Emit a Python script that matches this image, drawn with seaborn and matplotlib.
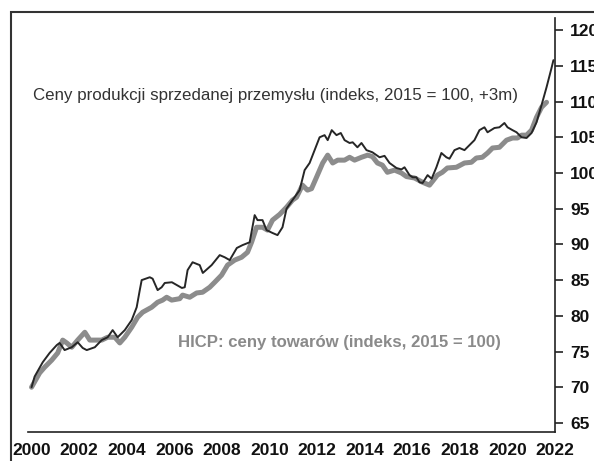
import numpy as np
import pandas as pd
import matplotlib.pyplot as plt
import seaborn as sns
from matplotlib.patches import Rectangle

# ---- dane ----
ppi_lata = [2000.0, 2000.13, 2000.47, 2000.76, 2001.06, 2001.18, 2001.39, 2001.69, 2001.94,
            2002.15, 2002.32, 2002.66, 2002.95, 2003.2, 2003.41, 2003.62, 2003.92, 2004.21,
            2004.42, 2004.55, 2004.63, 2004.97, 2005.09, 2005.3, 2005.47, 2005.6, 2005.9,
            2006.11, 2006.32, 2006.44, 2006.56, 2006.77, 2007.07, 2007.2, 2007.57, 2007.91,
            2008.12, 2008.33, 2008.63, 2008.87, 2009.17, 2009.38, 2009.5, 2009.71, 2009.88,
            2010.13, 2010.34, 2010.55, 2010.72, 2010.97, 2011.27, 2011.48, 2011.69, 2011.9,
            2012.11, 2012.32, 2012.45, 2012.62, 2012.82, 2013.0, 2013.16, 2013.37, 2013.5,
            2013.7, 2013.87, 2014.08, 2014.33, 2014.63, 2014.84, 2015.05, 2015.34, 2015.55,
            2015.68, 2015.89, 2016.02, 2016.18, 2016.31, 2016.44, 2016.65, 2016.82, 2017.02,
            2017.23, 2017.44, 2017.57, 2017.78, 2017.99, 2018.2, 2018.41, 2018.62, 2018.83,
            2019.04, 2019.17, 2019.46, 2019.67, 2019.88, 2020.01, 2020.22, 2020.39, 2020.6,
            2020.81, 2021.02, 2021.23, 2021.44, 2021.65, 2021.86, 2021.94]
ppi_wart = [70.0, 71.5, 73.5, 74.8, 75.9, 76.2, 75.2, 75.6, 76.3,
            75.5, 75.2, 75.6, 76.6, 77.0, 78.0, 77.0, 78.0, 79.4,
            81.2, 83.6, 85.0, 85.4, 85.2, 83.6, 84.0, 84.6, 84.7,
            84.3, 83.9, 84.0, 86.4, 87.5, 87.1, 86.0, 87.1, 88.5,
            88.2, 87.8, 89.5, 89.9, 90.3, 94.1, 93.4, 93.4, 92.0,
            91.6, 91.3, 92.4, 95.0, 96.2, 97.6, 100.4, 101.4, 103.2,
            105.0, 105.3, 104.6, 106.0, 105.3, 105.6, 104.6, 104.2, 104.3,
            103.6, 104.2, 103.2, 102.9, 102.2, 102.4, 101.4, 100.7, 100.5,
            100.8, 99.7, 99.4, 99.4, 98.7, 98.6, 99.7, 99.2, 100.8,
            102.8, 102.2, 102.0, 103.2, 103.5, 103.2, 103.9, 104.6, 106.0,
            106.4, 105.7, 106.3, 106.4, 107.0, 106.4, 106.0, 105.7, 105.0,
            104.9, 105.6, 107.1, 109.5, 112.0, 114.7, 115.8]

hicp_lata = [2000.0, 2000.34, 2000.55, 2000.85, 2001.1, 2001.31, 2001.48, 2001.69, 2001.94,
             2002.24, 2002.45, 2002.66, 2002.95, 2003.2, 2003.5, 2003.71, 2003.92, 2004.21,
             2004.46, 2004.67, 2005.05, 2005.3, 2005.51, 2005.68, 2005.89, 2006.23, 2006.35,
             2006.65, 2006.94, 2007.19, 2007.49, 2007.7, 2007.99, 2008.24, 2008.54, 2008.83,
             2009.08, 2009.25, 2009.46, 2009.71, 2009.92, 2010.13, 2010.43, 2010.72, 2010.97,
             2011.14, 2011.39, 2011.6, 2011.77, 2011.98, 2012.24, 2012.45, 2012.66, 2012.87,
             2013.16, 2013.37, 2013.58, 2013.87, 2014.13, 2014.33, 2014.54, 2014.75, 2014.96,
             2015.26, 2015.55, 2015.76, 2016.1, 2016.44, 2016.73, 2016.85, 2017.06, 2017.27,
             2017.48, 2017.86, 2018.2, 2018.49, 2018.7, 2018.95, 2019.17, 2019.38, 2019.67,
             2019.97, 2020.22, 2020.43, 2020.6, 2020.81, 2021.02, 2021.23, 2021.44, 2021.65]
hicp_wart = [70.0, 72.0, 72.8, 73.8, 74.8, 76.6, 76.2, 75.6, 76.6,
             77.7, 76.6, 76.6, 76.6, 77.0, 77.0, 76.2, 77.0, 78.4,
             79.8, 80.5, 81.2, 81.9, 82.2, 82.6, 82.2, 82.4, 82.9,
             82.6, 83.2, 83.3, 84.0, 84.7, 85.7, 87.1, 87.8, 88.2,
             88.9, 90.3, 92.4, 92.4, 92.0, 93.4, 94.2, 95.2, 96.2,
             96.6, 98.3, 97.6, 97.8, 99.4, 101.4, 102.5, 101.4, 101.8,
             101.8, 102.2, 101.8, 102.2, 102.5, 102.3, 101.4, 101.1, 100.1,
             100.4, 100.0, 99.5, 99.3, 98.7, 98.3, 98.8, 99.7, 100.1,
             100.7, 100.8, 101.4, 101.5, 102.1, 102.2, 102.8, 103.5, 103.6,
             104.6, 104.9, 104.9, 105.3, 105.3, 106.0, 107.8, 109.2, 109.9]

x_ticks = list(range(2000, 2023, 2))
y_ticks = list(range(65, 121, 5))

etykieta_ppi = "Ceny produkcji sprzedanej przemysłu (indeks, 2015 = 100, +3m)"
etykieta_hicp = "HICP: ceny towarów (indeks, 2015 = 100)"

# ---- wykres ----
sns.set_style("white")
plt.rcParams["font.family"] = ["Liberation Sans", "DejaVu Sans"]

fig = plt.figure(figsize=(5.94, 4.61), dpi=100)
ax = fig.add_axes([0.0471, 0.0629, 0.887, 0.898])

df_hicp = pd.DataFrame({"rok": hicp_lata, "wartosc": hicp_wart})
df_ppi = pd.DataFrame({"rok": ppi_lata, "wartosc": ppi_wart})

# HICP - gruba szara linia pod spodem, PPI - cienka ciemna na wierzchu
sns.lineplot(data=df_hicp, x="rok", y="wartosc", ax=ax, color="#8c8c8c", linewidth=3.6,
             solid_capstyle="round", solid_joinstyle="round")
sns.lineplot(data=df_ppi, x="rok", y="wartosc", ax=ax, color="#262626", linewidth=1.4)

ax.set_xlim(1999.85, 2022)
ax.set_ylim(63.73, 121.7)
ax.set_xticks(x_ticks)
ax.set_yticks(y_ticks)
ax.set_xlabel("")
ax.set_ylabel("")

ax.spines[["top", "left"]].set_visible(False)
for s in ["right", "bottom"]:
    ax.spines[s].set_color("#222222")
    ax.spines[s].set_linewidth(1.2)

ax.yaxis.tick_right()
ax.tick_params(axis="y", direction="out", length=6, width=1.2, color="#222222",
               labelsize=12.5, pad=5, right=True, left=False)
ax.tick_params(axis="x", direction="out", length=6, width=1.2, color="#222222",
               labelsize=12.5, pad=2)
for lab in ax.get_xticklabels() + ax.get_yticklabels():
    lab.set_fontweight("bold")
    lab.set_color("#111111")

ax.text(2000.05, 110.9, etykieta_ppi, fontsize=12.2, color="#333333",
        ha="left", va="center")
ax.text(2006.14, 76.3, etykieta_hicp, fontsize=12.1, color="#8a8a8a",
        fontweight="bold", ha="left", va="center")

# ramka wokół wykresu (przycięta na krawędziach)
fig.add_artist(Rectangle((11 / 594, -0.1), 1.2, 1.1 - 12 / 461, transform=fig.transFigure,
                         fill=False, edgecolor="#333333", linewidth=1.5, clip_on=False))

fig.savefig("out.png", dpi=100)
